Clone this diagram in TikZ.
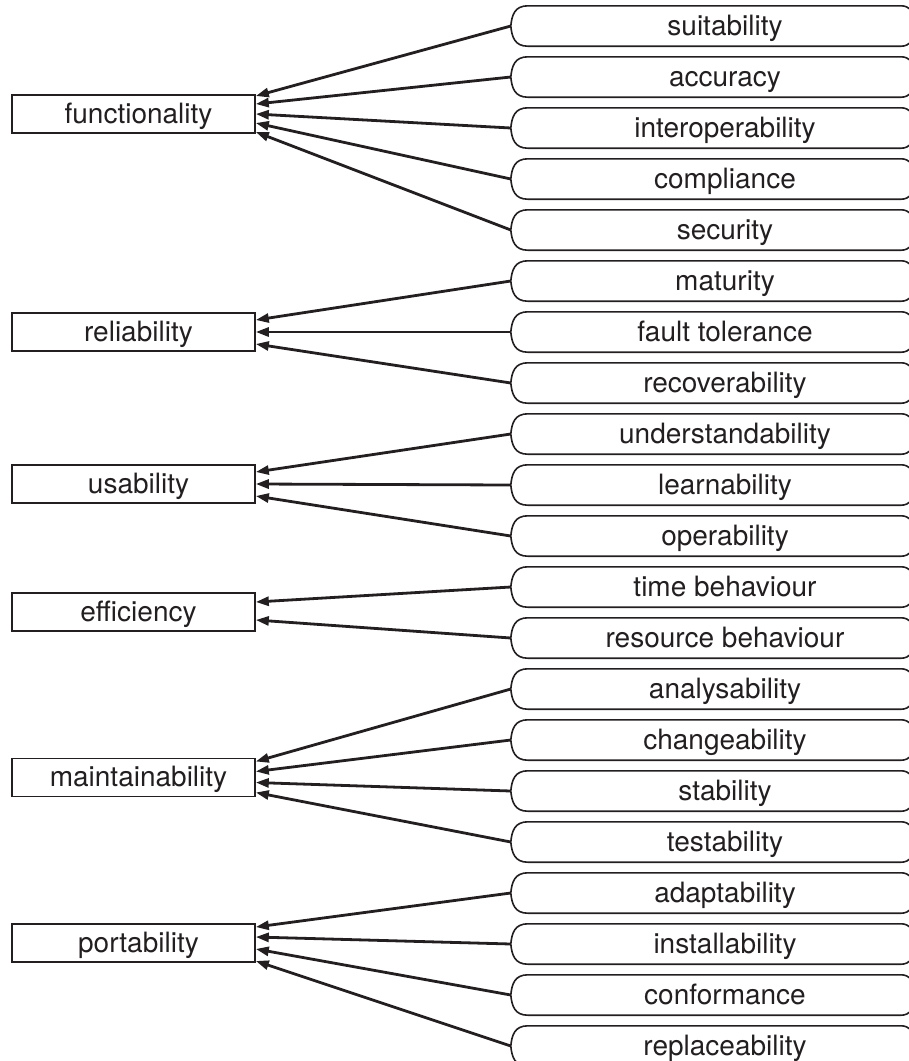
\documentclass[tikz,border=0pt]{standalone}
\usepackage{fontspec}
\setmainfont{TeX Gyre Heros}
\usetikzlibrary{arrows.meta,calc}
\definecolor{ink}{HTML}{231F20}
\begin{document}
\begin{tikzpicture}[x=1pt,y=1pt,
  txt/.style={text=ink,font=\fontsize{28}{31}\selectfont,text height=22pt,text depth=3.6pt},
  lbox/.style={txt,draw=ink,line width=1.6pt,minimum width=243pt,minimum height=38pt,inner sep=0pt},
  rbox/.style={txt,minimum width=404pt,minimum height=40pt,inner sep=0pt},
  outline/.style={draw=ink,line width=1.6pt},
  conn/.style={draw=ink,line width=2.8pt,-{Triangle[length=13pt,width=9pt]}}]
\useasboundingbox (0,0) rectangle (909,-1061);
\clip (0,0) rectangle (909,-1061);

\foreach \t [count=\i from 0] in {suitability,accuracy,interoperability,compliance,security,maturity,fault tolerance,recoverability,understandability,learnability,operability,time behaviour,resource behaviour,analysability,changeability,stability,testability,adaptability,installability,conformance,replaceability}{
  \node[rbox] (r\i) at (713,{-26-51*\i}) {\hspace*{24pt}\t};
  \draw[outline] (r\i.west) .. controls ([shift={(1,11)}]r\i.west) and ([xshift=4]r\i.north west) .. ([xshift=17]r\i.north west)
    -- ([xshift=-14]r\i.north east) arc[start angle=90,end angle=0,radius=14pt]
    -- ([yshift=14]r\i.south east) arc[start angle=0,end angle=-90,radius=14pt]
    -- ([xshift=17]r\i.south west) .. controls ([xshift=4]r\i.south west) and ([shift={(1,-11)}]r\i.west) .. (r\i.west);
}

\node[lbox] (fun) at (133.5,-114) {\hspace*{10pt}functionality};
\node[lbox] (rel) at (133.5,-332) {\hspace*{10pt}reliability};
\node[lbox] (usa) at (133.5,-484) {\hspace*{10pt}usability};
\node[lbox] (eff) at (133.5,-612) {\hspace*{10pt}efficiency};
\node[lbox] (mai) at (133.5,-777.5) {\hspace*{10pt}maintainability};
\node[lbox] (por) at (133.5,-943) {\hspace*{10pt}portability};

\foreach \s/\d/\o in {0/fun/18,1/fun/10,2/fun/0,3/fun/-9,4/fun/-18,
  5/rel/12,6/rel/0,7/rel/-12,
  8/usa/12,9/usa/0,10/usa/-12,
  11/eff/10,12/eff/-8,
  13/mai/16,14/mai/6,15/mai/-5,16/mai/-15,
  17/por/16,18/por/6,19/por/-6,20/por/-18}{
  \draw[conn] (r\s.west) -- ([yshift=\o]\d.east);
}
\end{tikzpicture}
\end{document}
